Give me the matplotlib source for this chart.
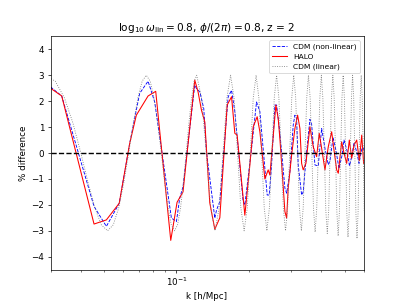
import matplotlib
matplotlib.use("Agg")
from matplotlib import pyplot as plt

# CDM (linear) -- dotted grey curve
k_lin = [0.0285, 0.0314, 0.0343, 0.0372, 0.0401, 0.0430, 0.0459, 0.0488,
         0.0518, 0.0547, 0.0576, 0.0605, 0.0634, 0.0663, 0.0692, 0.0721,
         0.0750, 0.0779, 0.0808, 0.0837, 0.0866, 0.0895, 0.0924, 0.0953,
         0.0983, 0.1012, 0.1041, 0.1070, 0.1099, 0.1128, 0.1157, 0.1186,
         0.1215,
         0.1273, 0.1331, 0.1389, 0.1448, 0.1506, 0.1564, 0.1622, 0.1680,
         0.1738, 0.1796, 0.1854, 0.1913, 0.1971, 0.2029, 0.2087, 0.2145,
         0.2203, 0.2261, 0.2319, 0.2378, 0.2436, 0.2494, 0.2552, 0.2610,
         0.2668, 0.2726, 0.2784, 0.2843, 0.2901, 0.2959, 0.3017, 0.3075,
         0.3133, 0.3191, 0.3249, 0.3308, 0.3366, 0.3424, 0.3482, 0.3540,
         0.3598, 0.3656, 0.3714, 0.3773, 0.3831, 0.3889, 0.3947, 0.4005,
         0.4063, 0.4121, 0.4179, 0.4238, 0.4296, 0.4354, 0.4412, 0.4470,
         0.4528, 0.4586, 0.4644, 0.4703, 0.4761, 0.4819, 0.4877, 0.4935,
         0.4993, 0.5051, 0.5109, 0.5168, 0.5226, 0.5284, 0.5342, 0.5400,
         0.5458, 0.5516, 0.5574, 0.5633, 0.5691, 0.5749, 0.5807, 0.5865,
         0.5923, 0.5981, 0.6039]
d_lin = [3.0, 2.77, 2.12, 1.15, 0.0, -1.15, -2.12, -2.77,
         -3.0, -2.77, -2.12, -1.15, 0.0, 1.15, 2.12, 2.77,
         3.0, 2.77, 2.12, 1.15, 0.0, -1.15, -2.12, -2.77,
         -3.0, -2.77, -2.12, -1.15, 0.0, 1.15, 2.12, 2.77,
         3.0,
         2.12, 0.0, -2.12, -3.0, -2.12, 0.0, 2.12, 3.0,
         2.12, 0.0, -2.12, -3.0, -2.12, 0.0, 2.12, 3.0,
         2.12, 0.0, -2.12, -3.0, -2.12, 0.0, 2.12, 3.0,
         2.12, 0.0, -2.12, -3.0, -2.12, 0.0, 2.12, 3.0,
         2.12, 0.0, -2.12, -3.0, -2.12, 0.0, 2.12, 3.0,
         2.12, 0.0, -2.12, -3.05, -2.15, 0.0, 2.12, 3.0,
         2.12, 0.0, -2.2, -3.1, -2.2, 0.0, 2.12, 3.0,
         2.12, 0.0, -2.25, -3.2, -2.25, 0.0, 2.12, 3.0,
         2.12, 0.0, -2.3, -3.25, -2.3, 0.0, 2.12, 3.0,
         2.12, 0.0, -2.3, -3.3, -2.3, 0.0, 2.12, 3.0,
         2.12, 0.0, -2.3]

# CDM (non-linear) -- blue dashed
k_nl = [0.0300, 0.0334, 0.0455, 0.0512, 0.0579, 0.0640, 0.0704, 0.0763,
        0.0813, 0.0954, 0.1001, 0.1033, 0.1066, 0.1193, 0.1212, 0.1252,
        0.1300, 0.1334, 0.1445, 0.1469, 0.1516, 0.1642, 0.1696, 0.1750,
        0.1895, 0.1926, 0.2054, 0.2154, 0.2224, 0.2333, 0.2385, 0.2432,
        0.2488, 0.2568, 0.2610, 0.2676, 0.2738, 0.2826, 0.2873, 0.2965,
        0.3060, 0.3110, 0.3161, 0.3209, 0.3316, 0.3367, 0.3479, 0.3590,
        0.3650, 0.3767, 0.3888, 0.4016, 0.4146, 0.4279, 0.4350, 0.4477,
        0.4606, 0.4741, 0.4879, 0.4973, 0.5118, 0.5242, 0.5369, 0.5473,
        0.5633, 0.5742, 0.5854, 0.5938, 0.6025]
d_nl = [2.55, 2.2, -2.06, -2.83, -1.94, 0.37, 2.3, 2.77,
        1.97, -2.51, -2.64, -1.74, -1.3, 2.62, 2.49, 2.36,
        1.72, 0.05, -2.51, -2.2, -1.87, 2.17, 2.42, 1.6,
        -1.87, -2.0, 0.18, 1.97, 1.6, -0.59, -1.62, -1.62,
        -0.46, 1.85, 1.85, 1.01, 0.05, -1.36, -1.55, -0.72,
        1.08, 1.46, 1.33, -0.46, -1.62, -1.5, 0.05, 1.3,
        1.1, -0.46, -0.5, 0.95, 0.18, -0.45, -0.3, 0.6,
        0.1, -0.6, -0.1, 0.5, 0.1, -0.5, -0.1, 0.4,
        0.0, -0.4, 0.0, 0.3, 0.1]

# HALO -- red solid
k_halo = [0.0300, 0.0334, 0.0455, 0.0512, 0.0579, 0.0640, 0.0682, 0.0763,
          0.0821, 0.0948, 0.1007, 0.1066, 0.1193, 0.1231, 0.1272, 0.1313,
          0.1377, 0.1445, 0.1516, 0.1626, 0.1696, 0.1750, 0.1789, 0.1926,
          0.2021, 0.2086, 0.2167, 0.2224, 0.2333, 0.2408, 0.2448, 0.2592,
          0.2650, 0.2693, 0.2826, 0.2873, 0.2916, 0.3013, 0.3110, 0.3191,
          0.3262, 0.3316, 0.3367, 0.3455, 0.3590, 0.3706, 0.3828, 0.3925,
          0.4016, 0.4146, 0.4279, 0.4420, 0.4519, 0.4637, 0.4709, 0.4864,
          0.4973, 0.5104, 0.5233, 0.5355, 0.5473, 0.5617, 0.5759, 0.5893,
          0.6001]
d_halo = [2.5, 2.2, -2.74, -2.58, -1.94, 0.37, 1.46, 2.2,
          2.38, -3.37, -1.9, -1.5, 2.81, 2.36, 1.65, 1.2,
          -1.92, -2.94, -2.5, 1.85, 2.17, 0.76, 0.69, -2.4,
          -0.46, 1.01, 1.4, 0.82, -1.0, -0.65, -0.85, 1.85,
          1.33, 0.56, -2.26, -2.51, -1.36, -0.08, 0.95, 1.46,
          0.95, -0.4, -0.65, -0.4, 1.01, 0.24, -0.14, 0.76,
          0.18, -0.65, 0.24, 0.82, 0.12, -0.65, -0.78, 0.43,
          0.0, -0.4, 0.5, -0.2, 0.3, 0.5, -0.3, 0.69,
          -0.4]

fig = plt.figure(figsize=(6.4, 4.8), dpi=63.125)
ax = plt.gca()

ax.plot(k_nl, d_nl, color='blue', ls='--', lw=1, label='CDM (non-linear)')
ax.plot(k_halo, d_halo, color='red', ls='-', lw=1.2, label='HALO')
ax.plot(k_lin, d_lin, color='grey', ls=':', lw=1, label='CDM (linear)')
ax.axhline(0, color='k', ls='--', lw=1.6)

ax.set_xscale('log')
ax.set_xlim(0.03, 0.6)
ax.set_ylim(-4.5, 4.5)
ax.set_xlabel('k [h/Mpc]')
ax.set_ylabel('% difference')
ax.set_title(r'$\log_{10}\omega_{\rm lin} = 0.8$, $\phi/(2\pi) = 0.8$, z = 2')
ax.legend(loc='upper right', fontsize=8.5)

plt.savefig('out.png', dpi=63.125)
